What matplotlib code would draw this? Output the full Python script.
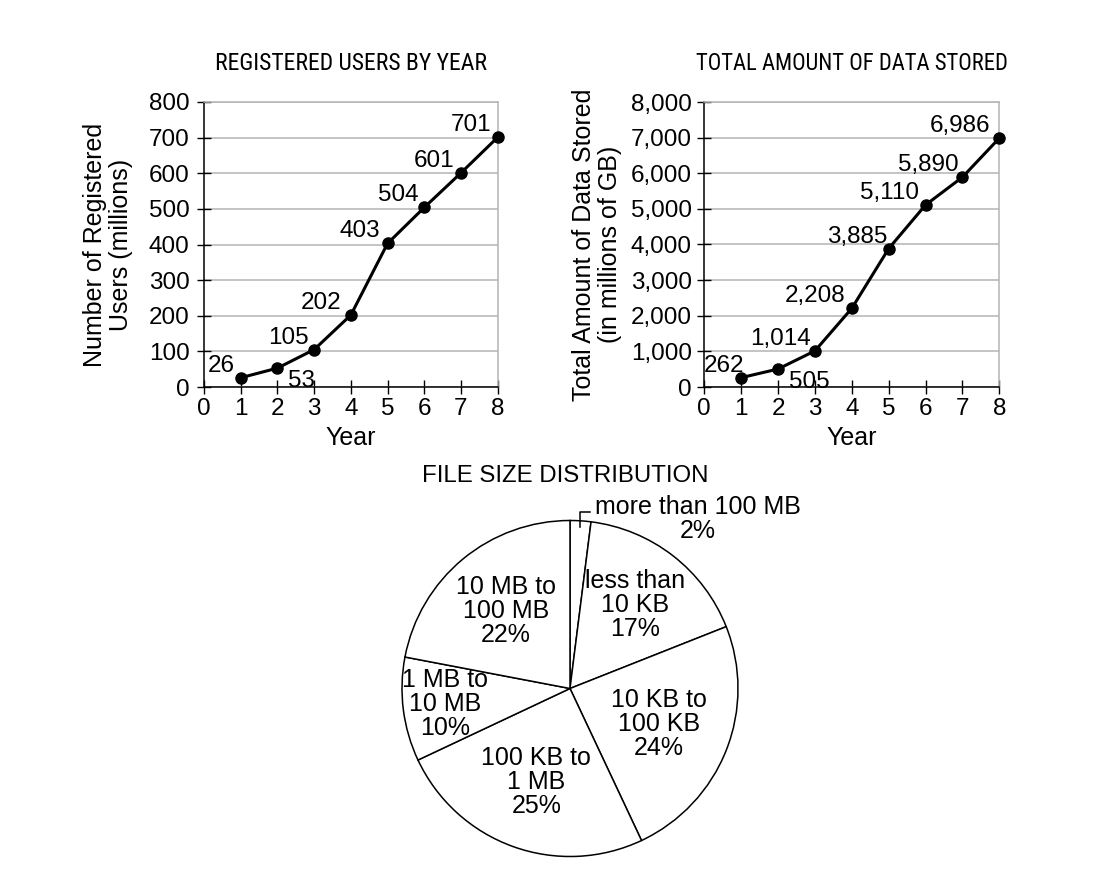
import numpy as np
import matplotlib
matplotlib.use("Agg")
import matplotlib.pyplot as plt
from matplotlib import font_manager

# data
years = [1, 2, 3, 4, 5, 6, 7, 8]
users = [26, 53, 105, 202, 403, 504, 601, 701]
data_stored = [262, 505, 1014, 2208, 3885, 5110, 5890, 6986]
user_ticks = [0, 100, 200, 300, 400, 500, 600, 700, 800]
data_ticks = [0, 1000, 2000, 3000, 4000, 5000, 6000, 7000, 8000]
year_ticks = [0, 1, 2, 3, 4, 5, 6, 7, 8]

file_sizes = ["more than 100 MB", "less than\n10 KB", "10 KB to\n100 KB",
              "100 KB to\n1 MB", "1 MB to\n10 MB", "10 MB to\n100 MB"]
file_pct = [2, 17, 24, 25, 10, 22]

# fonts
names = {f.name for f in font_manager.fontManager.ttflist}
base = "Liberation Sans"
narrow = base
for cand in ["Liberation Sans Narrow", "Arial Narrow", "Roboto Condensed", "Open Sans Condensed"]:
    if cand in names:
        narrow = cand
        break
plt.rcParams["font.family"] = [base, "DejaVu Sans"]
FS = 17.5   # ticks, point labels
FL = 18     # axis labels, pie labels

fig = plt.figure(figsize=(11.2, 8.92), dpi=100)
renderer = fig.canvas.get_renderer()


def fit_title(t, width_px):
    # shrink/grow title so it spans the same width as the reference
    w = t.get_window_extent(renderer).width
    t.set_fontsize(t.get_fontsize() * width_px / w)


def line_panel(rect, y, ticks, ylabel, title, title_w, fmt, below, ypad, label_x, xoffs):
    ax = fig.add_axes(rect)
    ax.plot(years, y, color="black", lw=2.2, marker="o", ms=8, zorder=3, clip_on=False)
    ax.set_xlim(0, 8)
    ax.set_ylim(0, ticks[-1])
    ax.set_xticks(year_ticks)
    ax.set_yticks(ticks)
    ax.set_yticklabels([fmt(t) for t in ticks])
    ax.grid(axis="y", color="#b4b4b4", lw=1.1)
    ax.set_axisbelow(True)
    for s in ["left", "bottom"]:
        ax.spines[s].set_color("black")
        ax.spines[s].set_linewidth(1.1)
    for s in ["top", "right"]:
        ax.spines[s].set_color("#b4b4b4")
        ax.spines[s].set_linewidth(1.1)
    ax.tick_params(axis="both", direction="inout", length=10, width=1, labelsize=FS)
    ax.tick_params(axis="y", pad=ypad)
    ax.tick_params(axis="x", pad=3)
    ax.set_xlabel("Year", fontsize=FL)
    ax.xaxis.set_label_coords(0.5, -0.137)
    ax.set_ylabel(ylabel, fontsize=FL, linespacing=1.1)
    ax.yaxis.set_label_coords(label_x, 0.5)
    t = ax.text(0.5, 1.135, title, transform=ax.transAxes, ha="center", va="center",
                fontsize=15, family=[narrow, base])
    fit_title(t, title_w)
    for i, (xv, yv) in enumerate(zip(years, y)):
        if i == below:
            ax.annotate(fmt(yv), (xv, yv), xytext=(11, -2), textcoords="offset pixels",
                        ha="left", va="top", fontsize=FS)
        else:
            ax.annotate(fmt(yv), (xv, yv), xytext=(xoffs[i], 6), textcoords="offset pixels",
                        ha="right", va="baseline", fontsize=FS)
    return ax


line_panel([204 / 1120, 1 - 387 / 892, 293.7 / 1120, 285 / 892], users, user_ticks,
           "Number of Registered\nUsers (millions)", "REGISTERED USERS BY YEAR", 272,
           lambda v: f"{v:d}", 1, 5.5, -0.242, [-6, 0, -5, -9, -7, -6, -7, -6])
line_panel([704.3 / 1120, 1 - 387 / 892, 295 / 1120, 295 / 1120 * 0 + 285 / 892], data_stored, data_ticks,
           "Total Amount of Data Stored\n(in millions of GB)", "TOTAL AMOUNT OF DATA STORED", 313,
           lambda v: f"{v:,d}", 1, 4, -0.28, [3, 0, -4, -6, -1, -7, -4, -9])

# pie
pax = fig.add_axes([(570 - 168) / 1120, (892 - 688.5 - 168) / 892, 336 / 1120, 336 / 892])
wedges, _ = pax.pie(file_pct, startangle=90, counterclock=False, colors=["white"] * 6,
                    wedgeprops=dict(edgecolor="black", linewidth=1.1))
pax.set_xlim(-1, 1)
pax.set_ylim(-1, 1)
pax.axis("off")

dist = [None, 0.63, 0.57, 0.59, 0.75, 0.6]
for i, w in enumerate(wedges):
    mid = np.deg2rad((w.theta1 + w.theta2) / 2)
    txt = f"{file_sizes[i]}\n{file_pct[i]}%"
    if i == 0:
        x0, y0 = np.cos(mid) * 0.965, np.sin(mid) * 0.965
        pax.plot([x0, x0, x0 + 0.06], [y0, 1.052, 1.052], color="black", lw=1.1, clip_on=False)
        pax.text(0.762, 1.009, txt, ha="center", va="center", fontsize=FL, linespacing=1.0)
    else:
        pax.text(np.cos(mid) * dist[i], np.sin(mid) * dist[i], txt, ha="center", va="center",
                 fontsize=FL, linespacing=1.0)

fig.text(565 / 1120, 1 - 476 / 892, "FILE SIZE DISTRIBUTION", ha="center", va="center", fontsize=17.3)

fig.savefig("out.png", dpi=100)
